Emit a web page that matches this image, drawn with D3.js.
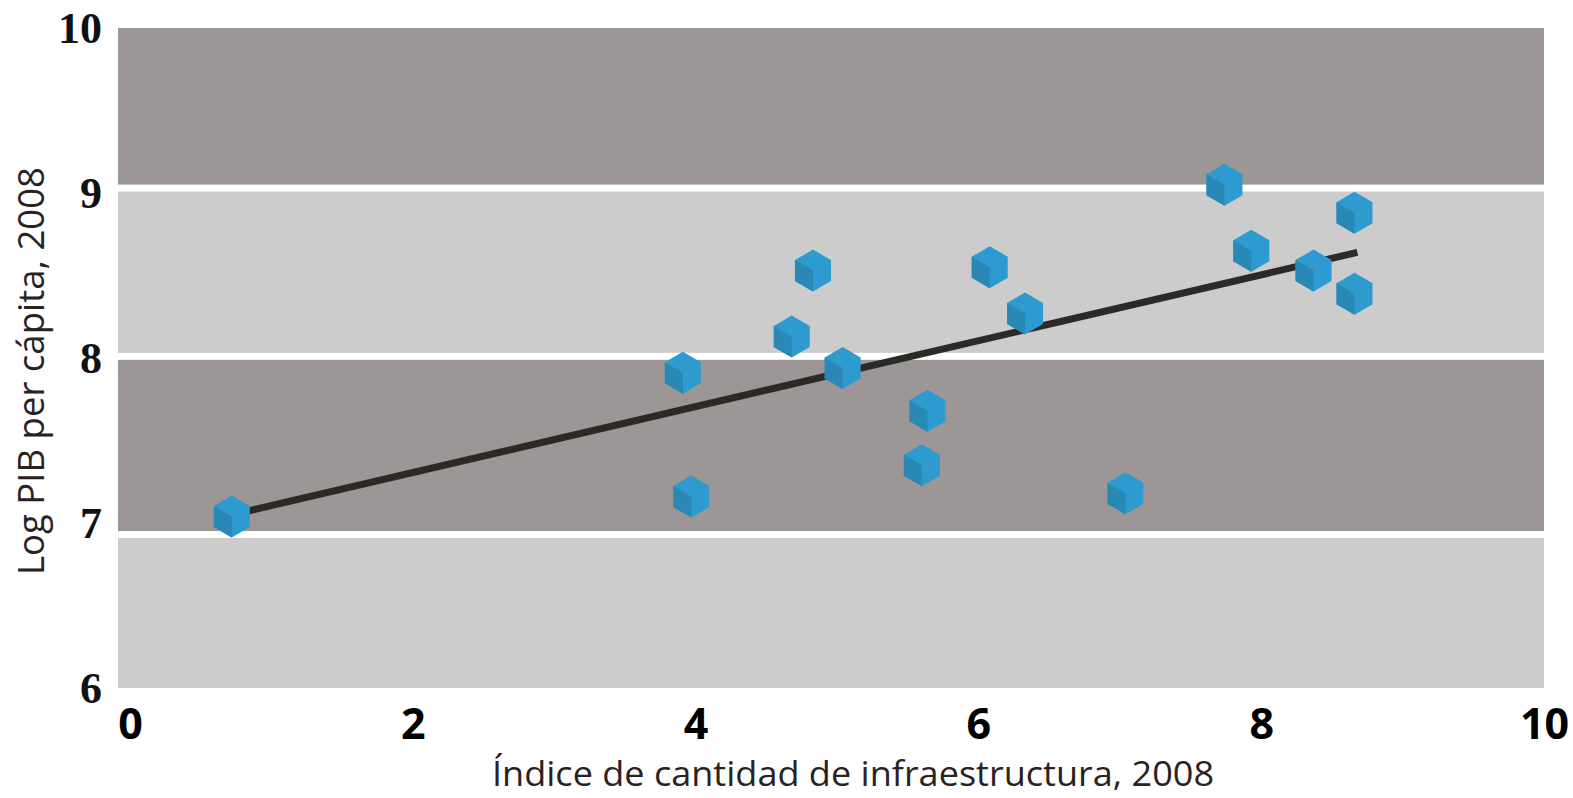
<!DOCTYPE html>
<html>
<head>
<meta charset="utf-8">
<script src="https://cdn.jsdelivr.net/npm/d3@7"></script>
<style>
  body { margin: 0; background: #fff; }
  svg { display: block; }
</style>
</head>
<body>
<svg id="chart" width="1573" height="798"></svg>
<script>
// data
var infraIndex = [0.72, 3.91, 3.97, 4.68, 4.83, 5.04, 5.64, 5.60, 6.08, 6.33, 7.04, 7.74, 7.93, 8.37, 8.66, 8.66];
var logGdp     = [7.04, 7.91, 7.16, 8.13, 8.53, 7.94, 7.68, 7.35, 8.55, 8.27, 7.18, 9.05, 8.65, 8.53, 8.88, 8.39];
var fitX = [0.72, 8.68];
var fitY = [7.05, 8.64];
var bandEdges = [6, 6.93, 8.01, 9.03, 10];
var bandColors = ["#cccccc", "#9c9696", "#cccccc", "#9c9696"];
var xTicks = [0, 2, 4, 6, 8, 10];
var yTicks = [6, 7, 8, 9, 10];
var xTitle = "Índice de cantidad de infraestructura, 2008";
var yTitle = "Log PIB per cápita, 2008";

let chart = d3.select("#chart");

var xScale = d3.scaleLinear().domain([0, 10]).range([130, 1544]);
var yScale = d3.scaleLinear().domain([6, 10]).range([688, 28]);

var points = infraIndex.map(function(v, i) { return {x: v, y: logGdp[i]}; });
var bands = bandColors.map(function(c, i) { return {lo: bandEdges[i], hi: bandEdges[i + 1], color: c}; });

// background bands, white gaps between them
var gap = 7;
chart.selectAll("rect.band")
    .data(bands).enter()
        .append("rect")
            .attr("class", "band")
            .attr("x", xScale(0) - 12)
            .attr("width", xScale(10) - xScale(0) + 12)
            .attr("y", function(d) { return yScale(d.hi) + (d.hi < 10 ? gap / 2 : 0); })
            .attr("height", function(d) {
                var h = yScale(d.lo) - yScale(d.hi);
                if (d.hi < 10) h -= gap / 2;
                if (d.lo > 6) h -= gap / 2;
                return h;
            })
            .attr("fill", function(d) { return d.color; });

// trend line
var line = d3.line()
    .x(function(d) { return xScale(d[0]); })
    .y(function(d) { return yScale(d[1]); });

chart.append("path")
    .datum(fitX.map(function(v, i) { return [v, fitY[i]]; }))
    .attr("d", line)
    .attr("fill", "none")
    .attr("stroke", "#2a2a26")
    .attr("stroke-width", 7);

// cube markers
var hw = 18, hh = 21;
var hex = [[0, -hh], [hw, -hh / 2], [hw, hh / 2], [0, hh], [-hw, hh / 2], [-hw, -hh / 2]];
var leftFace = [[-hw, -hh / 2], [0, 0], [0, hh], [-hw, hh / 2]];

var cubes = chart.selectAll("g.cube")
    .data(points).enter()
        .append("g")
            .attr("class", "cube")
            .attr("transform", function(d) { return "translate(" + xScale(d.x) + "," + yScale(d.y) + ")"; });

cubes.append("path")
    .attr("d", "M" + hex.join("L") + "Z")
    .attr("fill", "#2e9bd0");

cubes.append("path")
    .attr("d", "M" + leftFace.join("L") + "Z")
    .attr("fill", "#2a88b4");

// axes
var yAxis = chart.append("g")
    .attr("transform", "translate(102,0)")
    .call(d3.axisLeft(yScale).tickValues(yTicks).tickSize(0).tickPadding(0).tickFormat(d3.format("d")));
yAxis.select(".domain").remove();
yAxis.selectAll("text")
    .attr("font-family", "'Liberation Serif', 'DejaVu Serif', serif")
    .attr("font-weight", "bold")
    .attr("font-size", 44)
    .attr("fill", "#111");

var xAxis = chart.append("g")
    .attr("transform", "translate(0,708)")
    .call(d3.axisBottom(xScale).tickValues(xTicks).tickSize(0).tickPadding(0).tickFormat(d3.format("d")));
xAxis.select(".domain").remove();
xAxis.selectAll("text")
    .attr("font-family", "'Open Sans', 'DejaVu Sans', sans-serif")
    .attr("font-weight", "bold")
    .attr("font-size", 43)
    .attr("fill", "#000");

// titles
chart.append("text")
    .text(xTitle)
    .attr("x", 853)
    .attr("y", 786)
    .attr("text-anchor", "middle")
    .attr("font-family", "'Liberation Sans Narrow', 'Open Sans', sans-serif")
    .attr("font-size", 34)
    .attr("textLength", 722)
    .attr("lengthAdjust", "spacingAndGlyphs")
    .attr("fill", "#2a2222");

chart.append("text")
    .text(yTitle)
    .attr("transform", "translate(44,371) rotate(-90)")
    .attr("text-anchor", "middle")
    .attr("font-family", "'Liberation Sans Narrow', 'Open Sans', sans-serif")
    .attr("font-size", 36)
    .attr("textLength", 408)
    .attr("lengthAdjust", "spacingAndGlyphs")
    .attr("fill", "#2a2222");
</script>
</body>
</html>
